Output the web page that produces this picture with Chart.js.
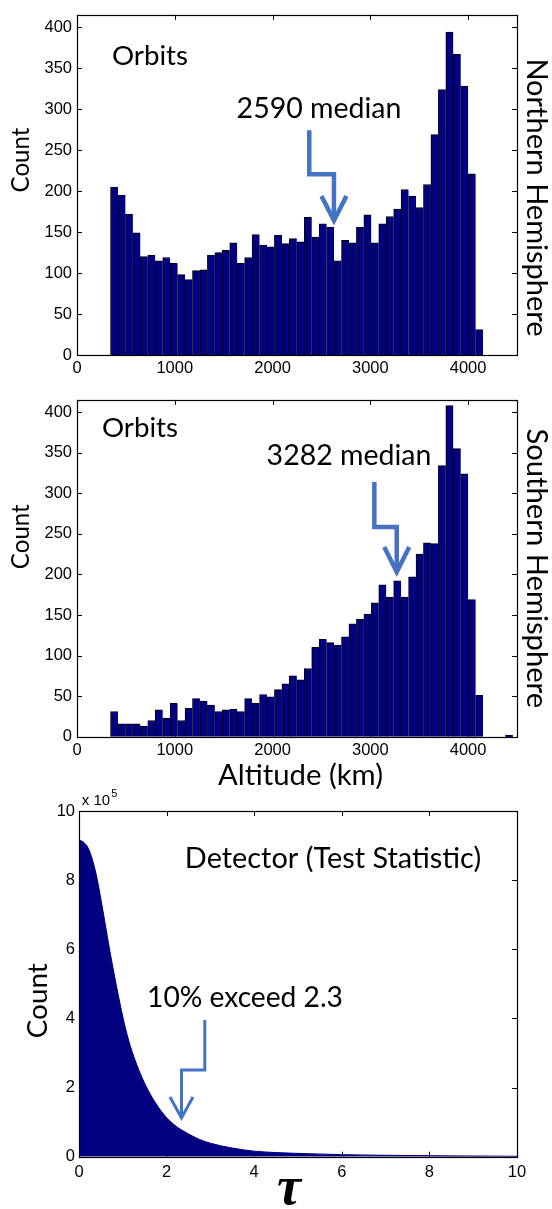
<!DOCTYPE html>
<html>
<head>
<meta charset="utf-8">
<script src="https://cdn.jsdelivr.net/npm/chart.js@4.4.1/dist/chart.umd.min.js"></script>
<style>
  html, body { margin: 0; padding: 0; background: #fff; }
  #wrap { position: relative; width: 552px; height: 1209px; overflow: hidden; }
  .box { position: absolute; left: 0; width: 552px; }
</style>
</head>
<body>
<div id="wrap">
  <div class="box" style="top:0;height:385px"><canvas id="north"></canvas></div>
  <div class="box" style="top:385px;height:415px"><canvas id="south"></canvas></div>
  <div class="box" style="top:780px;height:429px"><canvas id="detector"></canvas></div>
</div>
<script>
// altitude bin centres (km), 50 bins of ~76 km
var altBins = [381.1, 457.3, 533.5, 609.7, 685.9, 762.1, 838.3, 914.5, 990.7, 1066.9,
    1143.1, 1219.3, 1295.5, 1371.7, 1447.9, 1524.1, 1600.3, 1676.5, 1752.7, 1828.9,
    1905.1, 1981.3, 2057.5, 2133.7, 2209.9, 2286.1, 2362.3, 2438.5, 2514.7, 2590.9,
    2667.1, 2743.3, 2819.5, 2895.7, 2971.9, 3048.1, 3124.3, 3200.5, 3276.7, 3352.9,
    3429.1, 3505.3, 3581.5, 3657.7, 3733.9, 3810.1, 3886.3, 3962.5, 4038.7, 4114.9];
var northCounts = [205, 195, 172, 149, 120, 122, 115, 119, 112, 98,
    92, 103, 104, 122, 125, 128, 137, 112, 119, 147,
    134, 132, 146, 136, 142, 138, 168, 144, 160, 156,
    115, 140, 137, 156, 171, 137, 160, 169, 178, 202,
    194, 180, 208, 269, 324, 394, 367, 328, 221, 31];
var southCounts = [31, 16, 16, 16, 13, 20, 33, 23, 41, 20,
    35, 47, 44, 39, 31, 33, 34, 31, 47, 41,
    52, 49, 58, 65, 75, 70, 84, 110, 120, 116,
    113, 123, 139, 145, 151, 165, 187, 172, 192, 172,
    197, 225, 239, 238, 334, 408, 355, 324, 169, 51];
// one stray orbit bin out past the others (southern)
var southExtraBin = [4419.7];
var southExtraCount = [2];
var altTicks = [0, 1000, 2000, 3000, 4000];
var countTicks = [0, 50, 100, 150, 200, 250, 300, 350, 400];

// detector test statistic histogram (tau, count)
var tauVals = [0, 0.1, 0.2, 0.3, 0.4, 0.5, 0.6, 0.7, 0.8, 0.9,
    1.0, 1.1, 1.25, 1.5, 1.75, 2.0, 2.25, 2.5, 2.75, 3.0,
    3.5, 4.0, 4.5, 5.0, 6.0, 7.0, 8.0, 9.0, 10.0];
var tauCounts = [916000, 910000, 895000, 862000, 812000, 745000, 672000, 598000, 530000, 465000,
    405000, 352000, 290000, 212000, 155000, 113000, 85000, 66000, 50000, 39000,
    25000, 16000, 12000, 9500, 6000, 4000, 3000, 2000, 1200];
var tauTicks = [0, 2, 4, 6, 8, 10];
var tauCountTicks = [0, 200000, 400000, 600000, 800000, 1000000];

var NAVY = '#000080';
var ARROW = '#4472C4';
var LABEL_FONT = 'Lato, "Open Sans", sans-serif';
var TICK_FONT = '"Liberation Sans", Arial, sans-serif';

// font size that makes a text fill the given width
function fitFont(ctx, text, width, family) {
    ctx.font = '20px ' + family;
    var size = 20 * width / ctx.measureText(text).width;
    return size.toFixed(1) + 'px ' + family;
}

// box and inward ticks, matlab style
var frame = {
    id: 'frame',
    beforeDatasetsDraw: function (chart) {
        var ctx = chart.ctx, a = chart.chartArea;
        var xs = chart.scales.x, ys = chart.scales.y;
        ctx.save();
        ctx.strokeStyle = '#000';
        ctx.lineWidth = 1;
        ctx.beginPath();
        xs.ticks.forEach(function (t) {
            var px = Math.round(xs.getPixelForValue(t.value)) + 0.5;
            ctx.moveTo(px, a.bottom); ctx.lineTo(px, a.bottom - 5);
            ctx.moveTo(px, a.top); ctx.lineTo(px, a.top + 5);
        });
        ys.ticks.forEach(function (t) {
            var py = Math.round(ys.getPixelForValue(t.value)) + 0.5;
            ctx.moveTo(a.left, py); ctx.lineTo(a.left + 5, py);
            ctx.moveTo(a.right, py); ctx.lineTo(a.right - 5, py);
        });
        ctx.stroke();
        ctx.restore();
    },
    afterDatasetsDraw: function (chart) {
        var ctx = chart.ctx, a = chart.chartArea;
        ctx.save();
        ctx.strokeStyle = '#000';
        ctx.lineWidth = 1.2;
        ctx.strokeRect(Math.round(a.left) + 0.5, Math.round(a.top) + 0.5,
            Math.round(a.right - a.left), Math.round(a.bottom - a.top));
        ctx.restore();
    }
};

// texts and the bent arrow pointing at a value
function notes(texts, arrow) {
    return {
        id: 'notes',
        afterDraw: function (chart) {
            var ctx = chart.ctx;
            ctx.save();
            texts.forEach(function (t) {
                ctx.save();
                ctx.fillStyle = '#000';
                ctx.font = t.font ? t.font : fitFont(ctx, t.text, t.w, LABEL_FONT);
                ctx.textAlign = 'center';
                ctx.textBaseline = 'alphabetic';
                ctx.translate(t.x, t.y);
                if (t.rot) ctx.rotate(t.rot);
                ctx.fillText(t.text, 0, 0);
                if (t.sup) {
                    var w = ctx.measureText(t.text).width;
                    ctx.font = t.supFont;
                    ctx.textAlign = 'left';
                    ctx.fillText(t.sup, w / 2 + 1, -8);
                }
                ctx.restore();
            });
            if (arrow) {
                var tx = chart.scales.x.getPixelForValue(arrow.x);
                var ty = chart.scales.y.getPixelForValue(arrow.y);
                ctx.strokeStyle = ARROW;
                ctx.lineWidth = arrow.lw;
                ctx.lineJoin = 'miter';
                ctx.lineCap = 'butt';
                ctx.beginPath();
                arrow.path.forEach(function (p, i) {
                    if (i === 0) ctx.moveTo(tx + p[0], ty + p[1]);
                    else ctx.lineTo(tx + p[0], ty + p[1]);
                });
                ctx.stroke();
                ctx.beginPath();
                ctx.moveTo(tx - arrow.head[0], ty - arrow.head[1]);
                ctx.lineTo(tx, ty);
                ctx.lineTo(tx + arrow.head[0], ty - arrow.head[1]);
                ctx.stroke();
            }
            ctx.restore();
        }
    };
}

function tickList(list) {
    return function (scale) {
        scale.ticks = list.map(function (v) { return { value: v }; });
    };
}

function plainLabel(v) {
    return String(v);
}

function histOptions(padTop, xHeight) {
    return {
        responsive: true,
        maintainAspectRatio: false,
        animation: false,
        layout: { padding: { top: padTop, right: 35, left: 0, bottom: 0 } },
        plugins: { legend: { display: false }, tooltip: { enabled: false } },
        scales: {
            x: {
                type: 'linear', min: 0, max: 4500, offset: false,
                grid: { display: false, drawTicks: false },
                border: { display: false },
                afterBuildTicks: tickList(altTicks),
                ticks: { color: '#000', font: { family: TICK_FONT, size: 16.5 }, padding: 4, maxRotation: 0, autoSkip: false, callback: plainLabel },
                afterFit: function (s) { s.height = xHeight; }
            },
            y: {
                min: 0, max: 415,
                grid: { display: false, drawTicks: false },
                border: { display: false },
                afterBuildTicks: tickList(countTicks),
                ticks: { color: '#000', font: { family: TICK_FONT, size: 16.5 }, padding: 5, autoSkip: false, callback: plainLabel },
                afterFit: function (s) { s.width = 77; }
            }
        }
    };
}

function barSet(bins, counts) {
    var pts = [];
    for (var i = 0; i < bins.length; i++) {
        pts.push({ x: bins[i], y: counts[i] });
    }
    return {
        data: pts,
        backgroundColor: NAVY,
        borderColor: '#000',
        borderWidth: { top: 1, left: 1, right: 0, bottom: 0 },
        borderSkipped: false,
        barPercentage: 1,
        categoryPercentage: 1
    };
}

// Northern hemisphere
new Chart(document.getElementById('north'), {
    type: 'bar',
    data: { datasets: [barSet(altBins, northCounts)] },
    options: histOptions(8, 30),
    plugins: [frame, notes([
        { text: 'Orbits', x: 150, y: 65, w: 76 },
        { text: '2590 median', x: 319, y: 118, w: 165 },
        { text: 'Count', x: 28.5, y: 160, w: 65, rot: -Math.PI / 2 },
        { text: 'Northern Hemisphere', x: 527, y: 197.5, w: 278, rot: Math.PI / 2 }
    ], { x: 2628, y: 164, lw: 4.5, path: [[-24.7, -90.3], [-24.7, -46.3], [0, -46.3], [0, 0]], head: [12.5, 24.7] })]
});

// Southern hemisphere
var southSet = barSet(altBins.concat(southExtraBin), southCounts.concat(southExtraCount));
new Chart(document.getElementById('south'), {
    type: 'bar',
    data: { datasets: [southSet] },
    options: histOptions(5, 63.3),
    plugins: [frame, notes([
        { text: 'Orbits', x: 140, y: 51.7, w: 76 },
        { text: '3282 median', x: 349, y: 80, w: 165 },
        { text: 'Count', x: 28.5, y: 151.7, w: 65, rot: -Math.PI / 2 },
        { text: 'Southern Hemisphere', x: 527, y: 183.3, w: 280, rot: Math.PI / 2 },
        { text: 'Altitude (km)', x: 300.5, y: 400, w: 165 }
    ], { x: 3270, y: 203, lw: 4.5, path: [[-22.4, -90], [-22.4, -45], [0, -45], [0, 0]], head: [12.5, 25] })]
});

// Detector test statistic
var tauPts = [];
for (var i = 0; i < tauVals.length; i++) {
    tauPts.push({ x: tauVals[i], y: tauCounts[i] });
}
new Chart(document.getElementById('detector'), {
    type: 'line',
    data: {
        datasets: [{
            data: tauPts,
            borderColor: NAVY,
            borderWidth: 1,
            backgroundColor: NAVY,
            fill: 'origin',
            pointRadius: 0,
            cubicInterpolationMode: 'monotone'
        }]
    },
    options: {
        responsive: true,
        maintainAspectRatio: false,
        animation: false,
        layout: { padding: { top: 31, right: 35, left: 0, bottom: 0 } },
        plugins: { legend: { display: false }, tooltip: { enabled: false } },
        scales: {
            x: {
                type: 'linear', min: 0, max: 10,
                grid: { display: false, drawTicks: false },
                border: { display: false },
                afterBuildTicks: tickList(tauTicks),
                ticks: { color: '#000', font: { family: TICK_FONT, size: 16.5 }, padding: 6, maxRotation: 0, autoSkip: false, callback: plainLabel },
                afterFit: function (s) { s.height = 52.3; }
            },
            y: {
                min: 0, max: 1000000,
                grid: { display: false, drawTicks: false },
                border: { display: false },
                afterBuildTicks: tickList(tauCountTicks),
                ticks: {
                    color: '#000', font: { family: TICK_FONT, size: 16.5 }, padding: 4, autoSkip: false,
                    callback: function (v) { return String(v / 100000); }
                },
                afterFit: function (s) { s.width = 79; }
            }
        }
    },
    plugins: [frame, notes([
        { text: 'Detector (Test Statistic)', x: 333, y: 88.3, w: 296 },
        { text: '10% exceed 2.3', x: 245, y: 226.7, w: 196 },
        { text: 'Count', x: 46.5, y: 220.7, w: 75, rot: -Math.PI / 2 },
        { text: '\u03c4', x: 289, y: 424, font: 'bold italic 54px "Liberation Serif", "DejaVu Serif", serif' },
        { text: 'x 10', x: 96, y: 25, font: '15px ' + TICK_FONT, sup: '5', supFont: '11px ' + TICK_FONT }
    ], { x: 2.34, y: 112000, lw: 3, path: [[23.3, -98], [23.3, -48], [0, -48], [0, 0]], head: [11.5, 21] })]
});
</script>
</body>
</html>
